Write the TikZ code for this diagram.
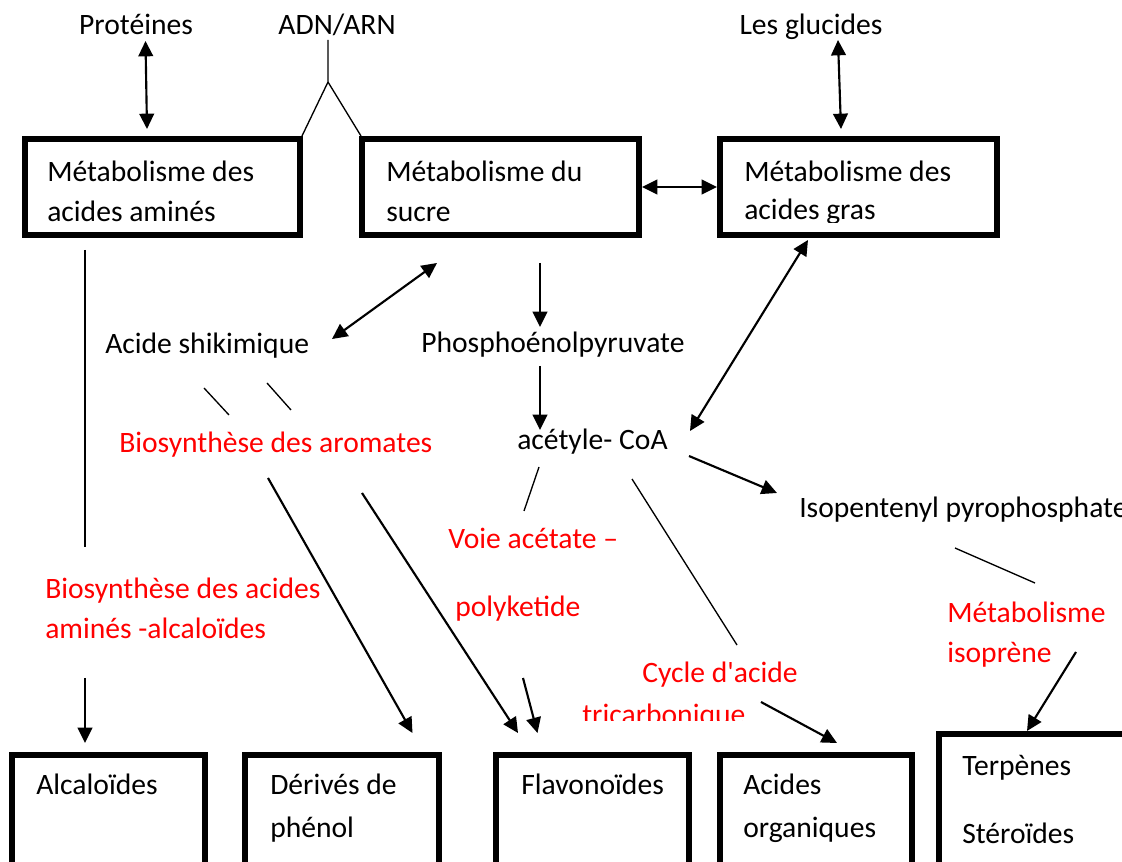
\documentclass[tikz,border=0pt]{standalone}
\usepackage{fontspec}
\setmainfont{Carlito}[Ligatures=TeXOff]
\usetikzlibrary{arrows.meta,fit}
\begin{document}
\begin{tikzpicture}[x=0.75pt,y=-0.75pt,
  box/.style={draw,line width=4.5pt,inner sep=0pt},
  txt/.style={anchor=base west,inner sep=0pt,font=\fontsize{22.2pt}{26pt}\selectfont},
  ctxt/.style={txt,anchor=base},
  rtxt/.style={txt,text=red},
  arr/.style={line width=1.6pt,-{Triangle[length=11.5pt,width=11pt]}},
  dbl/.style={line width=1.6pt,{Triangle[length=11.5pt,width=11pt]}-{Triangle[length=11.5pt,width=11pt]}},
  lnk/.style={line width=1pt}]
\clip (0,0) rectangle (1122,862);
\fill[white] (0,0) rectangle (1122,862);

% top labels
\node[ctxt] (prot) at (136,35) {Protéines};
\node[ctxt] (adn) at (337,35) {ADN/ARN};
\node[ctxt] (gluc) at (811,35) {Les glucides};

% top boxes
\node[box,fit={(24.7,139) (300,235)}] (b1) {};
\node[box,fit={(362,139) (639,235)}] (b2) {};
\node[box,fit={(720,139) (997,235)}] (b3) {};
\node[txt] (b1a) at (47,182) {Métabolisme des};
\node[txt] (b1b) at (47,222) {acides aminés};
\node[txt] (b2a) at (386,182) {Métabolisme du};
\node[txt] (b2b) at (386,222) {sucre};
\node[txt] (b3a) at (744,182) {Métabolisme des};
\begin{scope}
  \clip (730,195) rectangle (990,223);
  \node[txt] (b3b) at (744,220) {acides gras};
\end{scope}

% bottom boxes
\node[box,fit={(12,755) (204.5,880)}] (b4) {};
\node[box,fit={(245,755) (438.5,880)}] (b5) {};
\node[box,fit={(496,755) (688.5,880)}] (b6) {};
\node[box,fit={(720,755) (912,880)}] (b7) {};
\node[box,fit={(939,734) (1140,880)}] (b8) {};
\node[txt] (b4a) at (36,795) {Alcaloïdes};
\node[txt] (b5a) at (270,795) {Dérivés de};
\node[txt] (b5b) at (270,837) {phénol};
\node[txt] (b6a) at (521,795) {Flavonoïdes};
\node[txt] (b7a) at (743,795) {Acides};
\node[txt] (b7b) at (743,837) {organiques};
\node[txt] (b8a) at (962,776) {Terpènes};
\node[txt] (b8b) at (962,843) {Stéroïdes};

% middle texts
\node[txt] (shik) at (105,354) {Acide shikimique};
\node[txt] (pep) at (421,353) {Phosphoénolpyruvate};
\node[txt] (acoa) at (517,450) {acétyle- CoA};
\node[txt] (ipp) at (799,518) {Isopentenyl pyrophosphate};
\node[rtxt] (arom) at (119,453) {Biosynthèse des aromates};
\node[rtxt] (aa1) at (45,599) {Biosynthèse des acides};
\node[rtxt] (aa2) at (45,639) {aminés -alcaloïdes};
\node[rtxt] (voie1) at (448,549) {Voie acétate –};
\node[rtxt] (voie2) at (455,617) {polyketide};
\node[rtxt] (cyc1) at (642,683) {Cycle d'acide};
\begin{scope}
  \clip (560,690) rectangle (800,721);
  \node[rtxt] (cyc2) at (582,725) {tricarbonique};
\end{scope}
\node[rtxt] (iso1) at (947,623) {Métabolisme};
\node[rtxt] (iso2) at (947,663) {isoprène};

% coordinates for free ends
\coordinate (pa) at (145.5,41); \coordinate (pb) at (147,129);
\coordinate (ga) at (838,40);   \coordinate (gb) at (841,129);
\coordinate (na) at (328,40);   \coordinate (nm) at (328,82);
\coordinate (nl) at (302,136);  \coordinate (nr) at (361,136);
\coordinate (va) at (85,250);   \coordinate (vb) at (85,547);
\coordinate (vc) at (85,678);   \coordinate (vd) at (85,743);
\coordinate (sa) at (332,339);  \coordinate (sb) at (437,263);
\coordinate (pe1) at (540,263); \coordinate (pe2) at (540,327);
\coordinate (pe3) at (540,366); \coordinate (pe4) at (540,430);
\coordinate (gr1) at (808,240); \coordinate (gr2) at (690,431);
\coordinate (ip1) at (689,456); \coordinate (ip2) at (777,493);
\coordinate (is1) at (955,548); \coordinate (is2) at (1035,583);
\coordinate (is3) at (1076,652); \coordinate (is4) at (1027,731);
\coordinate (sl1) at (204,388); \coordinate (sl2) at (229,415);
\coordinate (sl3) at (267,383); \coordinate (sl4) at (291,410);
\coordinate (ar1) at (268,478); \coordinate (ar2) at (412.5,733);
\coordinate (ar3) at (362,493); \coordinate (ar4) at (518,733);
\coordinate (vo1) at (539,467); \coordinate (vo2) at (524,511);
\coordinate (vo3) at (523,678); \coordinate (vo4) at (537.5,733);
\coordinate (cy1) at (632,479); \coordinate (cy2) at (737,645);
\coordinate (cy3) at (761,702); \coordinate (cy4) at (837,743);

% connectors
\draw[dbl] (pa) -- (pb);
\draw[dbl] (ga) -- (gb);
\draw[lnk] (na) -- (nm) -- (nl);
\draw[lnk] (nm) -- (nr);
\draw[dbl] (b2.east) -- (b3.west);
\draw[line width=1.3pt] (va) -- (vb);
\draw[arr] (vc) -- (vd);
\draw[dbl] (sa) -- (sb);
\draw[arr] (pe1) -- (pe2);
\draw[arr] (pe3) -- (pe4);
\draw[dbl] (gr1) -- (gr2);
\draw[arr] (ip1) -- (ip2);
\draw[lnk] (is1) -- (is2);
\draw[arr] (is3) -- (is4);
\draw[lnk] (sl1) -- (sl2);
\draw[lnk] (sl3) -- (sl4);
\draw[arr] (ar1) -- (ar2);
\draw[arr] (ar3) -- (ar4);
\draw[lnk] (vo1) -- (vo2);
\draw[arr] (vo3) -- (vo4);
\draw[lnk] (cy1) -- (cy2);
\draw[arr] (cy3) -- (cy4);
\end{tikzpicture}
\end{document}
